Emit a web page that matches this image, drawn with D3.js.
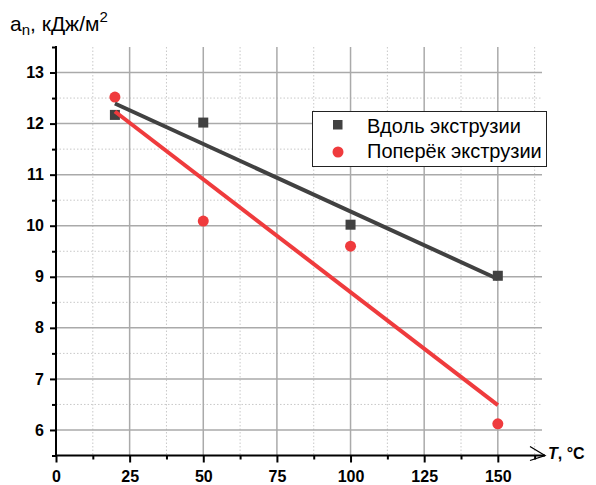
<!DOCTYPE html>
<html>
<head>
<meta charset="utf-8">
<script src="https://cdn.jsdelivr.net/npm/d3@7"></script>
<style>
  body { margin: 0; background: #fff; }
  svg { display: block; font-family: "Liberation Sans", Arial, sans-serif; }
</style>
</head>
<body>
<svg id="chart" width="596" height="485"></svg>
<script>
// Temperature, °C
const temps = [20, 50, 100, 150];
// Impact strength a_n, kJ/m², two specimen orientations
const alongValues = [12.17, 12.02, 10.02, 9.02];
const acrossValues = [12.52, 10.09, 9.60, 6.12];
const seriesNames = ["Вдоль экструзии", "Поперёк экструзии"];

const xTicks = [0, 25, 50, 75, 100, 125, 150];
const xMinor = [12.5, 37.5, 62.5, 87.5, 112.5, 137.5, 162.5];
const yTicks = [6, 7, 8, 9, 10, 11, 12, 13];
const yMinor = [5.5, 6.5, 7.5, 8.5, 9.5, 10.5, 11.5, 12.5, 13.5];

const colAlong = "#414141";
const colAcross = "#ef3b3d";

const svg = d3.select("#chart");
const x = d3.scaleLinear().domain([0, 165]).range([56, 542]);
const y = d3.scaleLinear().domain([5.5, 13.5]).range([455.5, 47]);

const x0 = x(0), yBase = y(5.5), yTop = y(13.5), xEnd = x(165);

// grid: dotted minor lines first, then solid major ones
const grid = svg.append("g");
grid.selectAll(".vmin").data(xMinor).join("line")
  .attr("x1", d => x(d)).attr("x2", d => x(d)).attr("y1", yTop).attr("y2", yBase)
  .attr("stroke", "#c8c8c8").attr("stroke-width", 1).attr("stroke-dasharray", "1.5,2");
grid.selectAll(".hmin").data(yMinor.filter(v => v > 5.5 && v < 13.5)).join("line")
  .attr("x1", x0).attr("x2", xEnd).attr("y1", d => y(d)).attr("y2", d => y(d))
  .attr("stroke", "#c8c8c8").attr("stroke-width", 1).attr("stroke-dasharray", "1.5,2");
grid.selectAll(".vmaj").data(xTicks.filter(v => v > 0)).join("line")
  .attr("x1", d => x(d)).attr("x2", d => x(d)).attr("y1", yTop).attr("y2", yBase)
  .attr("stroke", "#aaaaaa").attr("stroke-width", 1.5);
grid.selectAll(".hmaj").data(yTicks).join("line")
  .attr("x1", x0).attr("x2", xEnd).attr("y1", d => y(d)).attr("y2", d => y(d))
  .attr("stroke", "#aaaaaa").attr("stroke-width", 1.5);

// x axis
const xAxis = svg.append("g").attr("transform", `translate(0,${yBase})`)
  .call(d3.axisBottom(x).tickValues(xTicks).tickSize(7).tickPadding(8.5).tickFormat(d3.format("d")));
const xAxisMinor = svg.append("g").attr("transform", `translate(0,${yBase})`)
  .call(d3.axisBottom(x).tickValues(xMinor).tickSize(4).tickFormat(""));
// y axis
const yAxis = svg.append("g").attr("transform", `translate(${x0},0)`)
  .call(d3.axisLeft(y).tickValues(yTicks).tickSize(6).tickPadding(6).tickFormat(d3.format("d")));
const yAxisMinor = svg.append("g").attr("transform", `translate(${x0},0)`)
  .call(d3.axisLeft(y).tickValues(yMinor).tickSize(4).tickFormat(""));

[xAxis, xAxisMinor, yAxis, yAxisMinor].forEach(g => {
  g.select(".domain").remove();
  g.selectAll(".tick line").attr("stroke", "#000").attr("stroke-width", 2);
  g.selectAll(".tick text").attr("fill", "#000").attr("font-size", 16).attr("font-weight", "bold")
    .attr("font-family", "'Liberation Sans', Arial, sans-serif");
});

// axis lines; the horizontal one ends in an open arrow
svg.append("line").attr("x1", x0).attr("x2", x0).attr("y1", yTop - 1).attr("y2", yBase + 1)
  .attr("stroke", "#000").attr("stroke-width", 2);
svg.append("line").attr("x1", x0 - 1).attr("x2", xEnd + 3).attr("y1", yBase).attr("y2", yBase)
  .attr("stroke", "#000").attr("stroke-width", 2);
svg.append("path")
  .attr("d", `M${xEnd - 12},${yBase - 9} L${xEnd + 3},${yBase} L${xEnd - 12},${yBase + 5}`)
  .attr("fill", "none").attr("stroke", "#000").attr("stroke-width", 1.3);

svg.append("text").attr("x", 548).attr("y", 459)
  .attr("font-size", 16).attr("font-weight", "bold")
  .call(t => {
    t.append("tspan").attr("font-style", "italic").text("T");
    t.append("tspan").text(", °C");
  });

svg.append("text").attr("x", 10).attr("y", 30.5).attr("font-size", 21)
  .call(t => {
    t.append("tspan").text("a");
    t.append("tspan").attr("font-size", 15).attr("dy", 4).text("n");
    t.append("tspan").attr("dy", -4).text(", кДж/м");
    t.append("tspan").attr("font-size", 15).attr("dy", -9).text("2");
  });

// least-squares line through a series
function fit(xs, ys) {
  const mx = d3.mean(xs), my = d3.mean(ys);
  const sxy = d3.sum(xs, (v, i) => (v - mx) * (ys[i] - my));
  const sxx = d3.sum(xs, v => (v - mx) ** 2);
  const k = sxy / sxx;
  const ext = d3.extent(xs);
  return ext.map(v => [v, my + k * (v - mx)]);
}

const line = d3.line().x(d => x(d[0])).y(d => y(d[1]));

// markers
svg.append("g").selectAll("rect").data(temps).join("rect")
  .attr("x", (d) => x(d) - 5).attr("y", (d, i) => y(alongValues[i]) - 5)
  .attr("width", 10).attr("height", 10).attr("fill", colAlong);
svg.append("g").selectAll("circle").data(temps).join("circle")
  .attr("cx", d => x(d)).attr("cy", (d, i) => y(acrossValues[i])).attr("r", 5.5)
  .attr("fill", colAcross);

// fitted trend lines
svg.append("path").attr("d", line(fit(temps, alongValues)))
  .attr("fill", "none").attr("stroke", colAlong).attr("stroke-width", 4);
svg.append("path").attr("d", line(fit(temps, acrossValues)))
  .attr("fill", "none").attr("stroke", colAcross).attr("stroke-width", 4);

// legend
const lg = svg.append("g");
lg.append("rect").attr("x", 312.5).attr("y", 111.5).attr("width", 234).attr("height", 55)
  .attr("fill", "#fff").attr("stroke", "#222").attr("stroke-width", 1);
lg.append("rect").attr("x", 333).attr("y", 120).attr("width", 9.5).attr("height", 9.5).attr("fill", colAlong);
lg.append("circle").attr("cx", 338).attr("cy", 152).attr("r", 5.5).attr("fill", colAcross);
lg.selectAll("text").data(seriesNames).join("text")
  .attr("x", 367).attr("y", (d, i) => 133 + i * 25)
  .attr("font-size", 20).attr("fill", "#000").text(d => d);
</script>
</body>
</html>
